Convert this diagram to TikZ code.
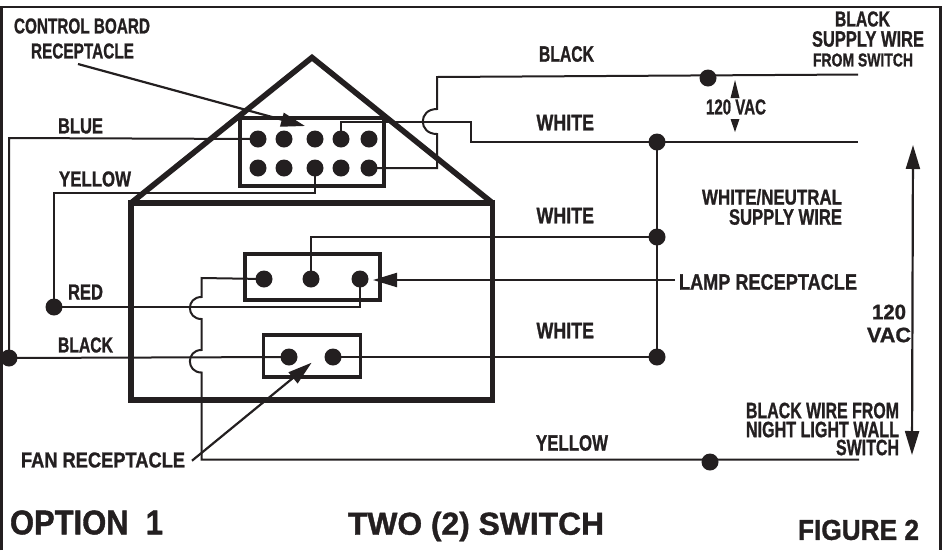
\documentclass[tikz,border=0pt]{standalone}
\usepackage{fontspec}
\usepackage{graphicx}
\setmainfont{Liberation Sans}[BoldFeatures={FakeBold=1.2}]
\usetikzlibrary{arrows.meta}
\definecolor{ink}{HTML}{231F20}
\newcommand{\lbl}[6]{\node[lab,anchor=west] (#1) at (#2,#4) {\resizebox{\dimexpr #3pt-#2pt\relax}{#5pt}{\bfseries #6}};}
\tikzset{
  lab/.style={inner sep=0pt,outer sep=0pt,text=ink},
  wire/.style={draw=ink,line width=2pt,line join=miter},
  heavy/.style={draw=ink,line width=5.6pt,line join=miter},
  frameline/.style={draw=ink,line width=2.6pt},
  box/.style={draw=ink,line width=3.8pt,inner sep=0pt,outer sep=0pt},
  dot/.style={circle,fill=ink,inner sep=0pt,outer sep=0pt,minimum size=17pt},
  pointer/.style={draw=ink,line width=2.2pt,-{Triangle[length=24pt,width=14pt]}},
  span/.style={draw=ink,line width=2.2pt,{Triangle[length=24pt,width=14pt]}-{Triangle[length=24pt,width=14pt]}},
  headonly/.style={fill=ink,draw=none}
}
\begin{document}
\begin{tikzpicture}[x=1pt,y=-1pt]
\useasboundingbox (0,0) rectangle (943,550);
% frame
\coordinate (fa) at (1.3,550); \coordinate (fb) at (1.3,7); \coordinate (fc) at (940.5,7); \coordinate (fd) at (940.5,550);
\draw[frameline] (fa) -- (fb) -- (fc) -- (fd);
% control board
\node[box,minimum width=144pt,minimum height=68pt] (ctrl) at (312,152) {};
\foreach \n/\x in {1/258,2/284,3/315,4/341,5/369}{
  \node[dot] (A\n) at (\x,139) {};
  \node[dot] (B\n) at (\x,168) {};
}
% lamp and fan receptacles
\node[box,minimum width=135pt,minimum height=46pt] (lamp) at (312.5,277) {};
\node[box,minimum width=97pt,minimum height=42pt] (fan) at (312,356) {};
\node[dot] (L1) at (264,279) {};
\node[dot] (L2) at (311,279) {};
\node[dot] (L3) at (360,279) {};
\node[dot] (F1) at (289,357) {};
\node[dot] (F2) at (333,357) {};
% house
\coordinate (hl) at (131,203); \coordinate (ha) at (312,57.5); \coordinate (hr) at (492.5,203); \coordinate (hbr) at (492.5,400); \coordinate (hbl) at (131,400);
\draw[heavy] (hl) -- (ha) -- (hr);
\draw[heavy] (hl) -- (hr) -- (hbr) -- (hbl) -- cycle;
% junction dots
\node[dot] (J) at (9,358) {};
\node[dot] (R) at (54,307) {};
\node[dot] (S) at (708,78) {};
\node[dot] (W1) at (657,142) {};
\node[dot] (W2) at (657,237) {};
\node[dot] (W3) at (657,357) {};
\node[dot] (Y) at (710,462) {};
% wire way-points
\coordinate (blueup) at (9,138);
\coordinate (yl) at (54,193);
\coordinate (w1a) at (341,122); \coordinate (w1b) at (471,122); \coordinate (w1c) at (471,142);
\coordinate (w1e) at (858,142);
\coordinate (b1) at (437,168); \coordinate (b2) at (437,134); \coordinate (b3) at (437,109); \coordinate (b4) at (437,77); \coordinate (be) at (858,74.5);
\coordinate (l2u) at (311,237);
\coordinate (l1a) at (201.5,278); \coordinate (l1b) at (201.5,297); \coordinate (l1c) at (201.5,319); \coordinate (l1d) at (201.5,350); \coordinate (l1e) at (201.5,372.5); \coordinate (l1f) at (201.5,459.5);
\coordinate (ye) at (859,459.5);
% wires
\draw[wire] (A1.center) -- (blueup) -- (J.center);
\draw[wire] (J.center) -- (F1.center);
\draw[wire] (F2.center) -- (W3.center);
\draw[wire] (W1.center) -- (W3.center);
\draw[wire] (B3.center) |- (yl) -- (R.center);
\draw[wire] (R.center) -| (L3.center);
\draw[wire] (L2.center) |- (l2u) -- (W2.center);
\draw[wire] (A4.center) |- (w1a) -- (w1b) -- (w1c) -- (w1e);
\draw[wire] (B5.center) -- (b1) -- (b2) .. controls (418,134) and (418,109) .. (b3) -- (b4) -- (be);
\draw[wire] (L1.center) -- (l1a) -- (l1b) .. controls (186,297) and (186,319) .. (l1c) -- (l1d) .. controls (186,350) and (186,372.5) .. (l1e) -- (l1f) -- (ye);
% pointers
\coordinate (p1) at (78,64); \coordinate (p1t) at (305,126);
\coordinate (p2) at (192,460.7); \coordinate (p2t) at (311.6,362.7);
\coordinate (p3) at (675,280); \coordinate (p3t) at (373,280);
\draw[pointer] (p1) -- (p1t);
\draw[pointer] (p2) -- (p2t);
\draw[pointer] (p3) -- (p3t);
% 120 VAC span arrows
\coordinate (sa) at (913,145); \coordinate (sb) at (912,455);
\draw[span] (sa) -- (sb);
\fill[headonly] (735,80) -- (739.5,98) -- (730.5,98) -- cycle;
\fill[headonly] (735,132) -- (730.5,119) -- (739.5,119) -- cycle;
% labels
\lbl{t1}{14}{150}{26}{15}{CONTROL BOARD}
\lbl{t2}{31}{134}{51}{15}{RECEPTACLE}
\lbl{t3}{58}{103}{126}{15}{BLUE}
\lbl{t4}{59}{131}{179}{15}{YELLOW}
\lbl{t5}{539}{594}{54}{15.5}{BLACK}
\lbl{t6}{536.5}{594}{122.5}{15.5}{WHITE}
\lbl{t7}{536.5}{594}{215.5}{15.5}{WHITE}
\lbl{t8}{536.5}{594}{330.5}{15.5}{WHITE}
\lbl{t9}{68}{103}{292}{15}{RED}
\lbl{t10}{58}{113}{345}{15}{BLACK}
\lbl{t11}{536}{608}{443}{15.5}{YELLOW}
\lbl{t12}{21}{185}{460}{15}{FAN RECEPTACLE}
\lbl{t13}{835}{890}{19}{15}{BLACK}
\lbl{t14}{812}{924}{39}{15.5}{SUPPLY WIRE}
\lbl{t15}{813}{913}{60}{13}{FROM SWITCH}
\lbl{t16}{706}{766}{107}{15}{120 VAC}
\lbl{t17}{702}{842}{197}{15.5}{WHITE/NEUTRAL}
\lbl{t18}{729}{842}{217}{15.5}{SUPPLY WIRE}
\lbl{t19}{679}{857}{282}{15.5}{LAMP RECEPTACLE}
\lbl{t20}{872}{906}{312}{14.5}{120}
\lbl{t21}{867}{911}{335}{14.5}{VAC}
\lbl{t22}{746}{899}{410.5}{15.5}{BLACK WIRE FROM}
\lbl{t23}{746}{899}{429.5}{15.5}{NIGHT LIGHT WALL}
\lbl{t24}{836}{899}{447.5}{15.5}{SWITCH}
\lbl{t25}{10}{163}{522.5}{24}{OPTION\ \ 1}
\lbl{t26}{348}{604}{526.5}{23}{TWO (2) SWITCH}
\lbl{t27}{798}{919}{530}{20}{FIGURE 2}
\end{tikzpicture}
\end{document}
